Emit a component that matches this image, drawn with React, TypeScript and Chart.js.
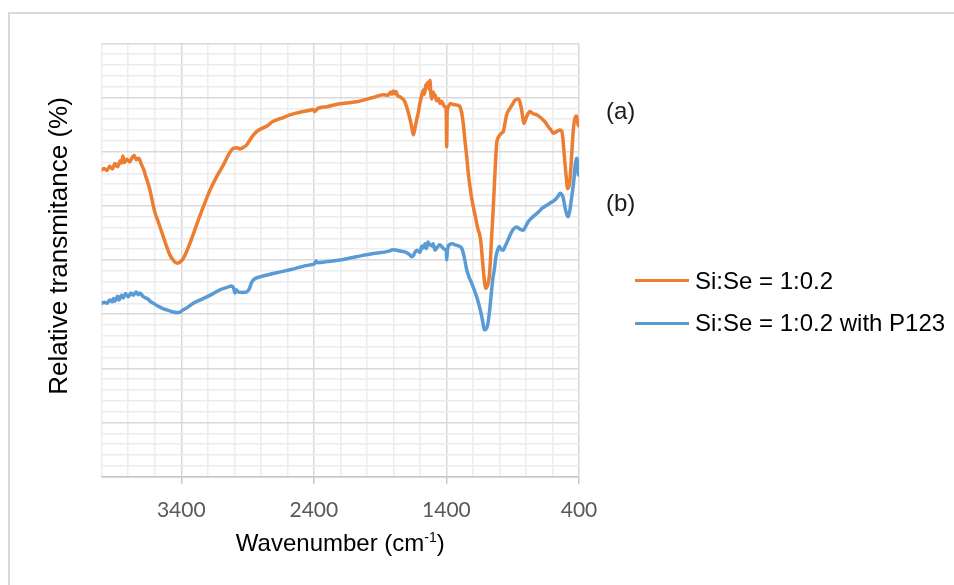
import React, { useEffect, useRef } from 'react';
import { Chart, registerables } from 'chart.js';

Chart.register(...registerables);

// FTIR spectra: wavenumber (cm-1) and relative transmittance (%)
const WAVE_A = [
  4000, 3980, 3960, 3940, 3920, 3900, 3880, 3860, 3850, 3840, 3830, 3810, 3790, 3770, 3755, 3740,
  3720, 3700, 3680, 3670, 3655, 3636, 3615, 3598, 3580, 3560, 3523, 3485, 3455, 3430, 3405, 3384,
  3334, 3284, 3234, 3183, 3133, 3083, 3040, 3007, 2980, 2957, 2930, 2905, 2881, 2855, 2831, 2800,
  2756, 2706, 2630, 2580, 2479, 2420, 2404, 2395, 2385, 2370, 2300, 2215, 2077, 1952, 1876, 1840,
  1820, 1810, 1800, 1790, 1780, 1770, 1750, 1720, 1700, 1680, 1662, 1650, 1640, 1625, 1610, 1600,
  1585, 1574, 1565, 1555, 1549, 1540, 1530, 1524, 1518, 1511, 1500, 1490, 1486, 1475, 1460, 1449,
  1435, 1420, 1411, 1402, 1398, 1394, 1386, 1370, 1348, 1320, 1298, 1285, 1273, 1260, 1247, 1235,
  1222, 1210, 1197, 1180, 1160, 1150, 1139, 1130, 1122, 1110, 1102, 1090, 1077, 1068, 1059, 1049,
  1039, 1030, 1021, 1010, 996, 980, 971, 960, 946, 921, 900, 883, 858, 845, 833, 822,
  815, 805, 795, 770, 745, 719, 690, 669, 650, 632, 610, 594, 570, 543, 530, 523,
  515, 506, 495, 486, 476, 468, 460, 453, 443, 436, 430, 420, 413, 405, 400,
];
const TRANS_A = [
  56.6, 56.9, 56.5, 57.3, 56.8, 57.8, 57.2, 58.3, 57.9, 59.2, 58.0, 58.6, 58.1, 58.9, 59.3, 58.5,
  58.8, 57.6, 56.5, 55.6, 54.5, 52.9, 50.5, 48.7, 47.5, 46.1, 43.4, 40.9, 39.8, 39.4, 39.7, 40.3,
  43.1, 46.5, 49.8, 52.9, 55.4, 57.5, 59.6, 60.6, 60.7, 60.5, 60.8, 61.3, 62.2, 63.1, 63.7, 64.2,
  64.7, 65.6, 66.3, 66.8, 67.4, 67.7, 67.8, 67.4, 67.6, 68.0, 68.3, 68.8, 69.2, 70.0, 70.5, 70.4,
  71.0, 70.6, 71.2, 70.7, 71.1, 70.4, 70.1, 69.5, 68.3, 66.5, 64.6, 63.1, 64.0, 65.8, 67.5, 68.9,
  70.5, 71.4, 70.6, 72.4, 72.0, 72.8, 71.5, 73.2, 70.8, 69.7, 71.0, 70.2, 70.5, 69.4, 69.8, 68.9,
  69.3, 68.5, 68.3, 67.8, 60.9, 67.5, 68.3, 68.9, 68.7, 68.6, 68.3, 67.2, 65.2, 62.0, 59.1, 56.0,
  53.5, 51.5, 49.8, 47.8, 45.5, 44.8, 43.1, 40.5, 38.2, 35.5, 34.8, 35.3, 36.9, 40.0, 44.3, 48.5,
  53.5, 58.0, 61.5, 62.6, 63.1, 63.5, 63.7, 65.0, 66.8, 68.0, 68.8, 69.5, 69.7, 69.1, 67.7, 66.0,
  65.2, 65.8, 66.5, 67.4, 67.0, 66.8, 66.3, 65.8, 65.3, 64.6, 64.0, 63.4, 63.7, 64.0, 63.8, 62.8,
  60.5, 57.9, 55.0, 53.2, 53.6, 54.8, 57.5, 60.3, 64.0, 65.5, 66.2, 66.6, 65.8, 64.8, 65.6,
];

const WAVE_B = [
  4000, 3980, 3960, 3940, 3920, 3912, 3900, 3880, 3870, 3850, 3837, 3820, 3800, 3780, 3762, 3740,
  3725, 3711, 3690, 3670, 3650, 3636, 3610, 3585, 3560, 3535, 3510, 3485, 3460, 3434, 3410, 3384,
  3350, 3309, 3260, 3208, 3160, 3108, 3060, 3020, 3005, 2995, 2985, 2970, 2940, 2906, 2885, 2870,
  2857, 2806, 2706, 2580, 2429, 2395, 2385, 2370, 2300, 2203, 2080, 1952, 1840, 1800, 1775, 1740,
  1713, 1690, 1670, 1662, 1650, 1635, 1620, 1600, 1585, 1574, 1560, 1550, 1540, 1524, 1510, 1500,
  1486, 1470, 1450, 1436, 1415, 1400, 1398, 1392, 1380, 1355, 1336, 1310, 1285, 1265, 1247, 1230,
  1209, 1190, 1172, 1155, 1139, 1125, 1114, 1100, 1089, 1075, 1064, 1050, 1039, 1025, 1014, 1001,
  989, 971, 958, 946, 925, 908, 890, 870, 845, 820, 800, 782, 755, 732, 700, 681,
  650, 619, 581, 560, 543, 530, 518, 508, 498, 488, 481, 470, 463, 448, 438, 430,
  422, 417, 410, 405, 400,
];
const TRANS_B = [
  32.0, 32.2, 32.0, 32.6, 32.3, 32.9, 32.4, 33.3, 32.6, 33.5, 33.0, 33.8, 33.2, 33.9, 33.5, 34.1,
  33.6, 33.9, 33.3, 33.0, 32.8, 32.4, 32.0, 31.6, 31.3, 31.0, 30.8, 30.6, 30.4, 30.3, 30.4, 30.8,
  31.3, 32.0, 32.6, 33.2, 33.8, 34.5, 34.9, 35.2, 34.8, 33.9, 34.5, 34.1, 34.0, 34.1, 34.8, 35.8,
  36.3, 36.9, 37.5, 38.2, 39.1, 39.3, 39.8, 39.5, 39.7, 40.0, 40.6, 41.2, 41.6, 41.9, 41.8, 41.6,
  41.5, 41.2, 40.8, 40.6, 40.8, 41.5, 41.8, 41.4, 42.6, 42.2, 43.0, 42.1, 43.3, 42.8, 42.6, 43.0,
  41.8, 42.3, 42.8, 42.5, 42.0, 41.6, 40.0, 41.8, 42.8, 43.0, 42.8, 42.6, 42.2, 40.5, 38.2, 36.9,
  35.7, 34.5, 33.2, 31.8, 30.2, 28.5, 27.1, 27.3, 28.0, 30.5, 33.2, 36.5, 38.2, 40.8, 41.8, 42.5,
  42.0, 41.8, 42.5, 43.1, 44.3, 45.2, 45.8, 46.1, 45.7, 45.5, 46.3, 47.1, 47.8, 48.3, 49.0, 49.5,
  50.0, 50.5, 51.1, 51.7, 52.3, 52.1, 51.4, 50.0, 48.9, 48.1, 48.0, 49.0, 50.2, 52.9, 55.0, 57.2,
  58.5, 58.8, 57.5, 55.7, 57.5,
];

const X_GRID = [4000, 3800, 3600, 3400, 3200, 3000, 2800, 2600, 2400, 2200, 2000, 1800, 1600, 1400, 1200, 1000, 800, 600, 400];
const X_MAJOR = [3400, 2400, 1400, 400];

const SERIES_NAMES = ['Si:Se = 1:0.2', 'Si:Se = 1:0.2 with P123'];
const CURVE_TAGS = ['(a)', '(b)'];
const COLOR_A = '#ED7D31';
const COLOR_B = '#5B9BD5';

const W = 954;
const H = 585;
const AREA = { left: 101.7, top: 43.3, right: 579, bottom: 476.7 };

const toPoints = (xs: number[], ys: number[]) => xs.map((x, i) => ({ x, y: ys[i] }));

export default function App() {
  const canvasRef = useRef<HTMLCanvasElement | null>(null);

  useEffect(() => {
    const canvas = canvasRef.current;
    if (!canvas) return;
    const line = (label: string, xs: number[], ys: number[], color: string) => ({
      label,
      data: toPoints(xs, ys),
      borderColor: color,
      borderWidth: 3.5,
      pointRadius: 0,
      cubicInterpolationMode: 'monotone' as const,
      borderJoinStyle: 'round' as const,
      borderCapStyle: 'round' as const,
    });
    const chart = new Chart(canvas, {
      type: 'line',
      data: {
        datasets: [
          line(SERIES_NAMES[0], WAVE_A, TRANS_A, COLOR_A),
          line(SERIES_NAMES[1], WAVE_B, TRANS_B, COLOR_B),
        ],
      },
      options: {
        responsive: false,
        animation: false,
        devicePixelRatio: 1,
        layout: {
          padding: { left: AREA.left, top: AREA.top, right: W - AREA.right, bottom: 0 },
        },
        plugins: { legend: { display: false }, tooltip: { enabled: false } },
        scales: {
          x: {
            type: 'linear',
            reverse: true,
            min: 400,
            max: 4000,
            afterBuildTicks: (scale: any) => {
              scale.ticks = X_GRID.map((v) => ({ value: v }));
            },
            afterFit: (scale: any) => {
              scale.height = H - AREA.bottom;
            },
            ticks: {
              autoSkip: false,
              maxRotation: 0,
              padding: 14,
              color: '#595959',
              font: { family: 'Lato', size: 21 },
              callback: (v: any) => (X_MAJOR.includes(Number(v)) ? String(v) : ''),
            },
            grid: {
              color: (ctx: any) => (X_MAJOR.includes(ctx.tick?.value) ? '#d9d9d9' : '#ececec'),
              tickColor: (ctx: any) => (X_MAJOR.includes(ctx.tick?.value) ? '#c8c8c8' : 'rgba(0,0,0,0)'),
              tickLength: 7,
              lineWidth: 1.5,
            },
            border: { color: '#c8c8c8', width: 1.5 },
          },
          y: {
            min: 0,
            max: 80,
            ticks: { display: false, stepSize: 2 },
            afterFit: (scale: any) => {
              scale.width = 0;
            },
            grid: {
              drawTicks: false,
              color: (ctx: any) => (ctx.tick && ctx.tick.value % 10 === 0 ? '#d9d9d9' : '#ececec'),
              lineWidth: 1.5,
            },
            border: { display: false },
          },
        },
      },
    });
    return () => chart.destroy();
  }, []);

  const arial = '"Liberation Sans", Arial, sans-serif';

  return (
    <div
      style={{
        position: 'absolute',
        left: 0,
        top: 0,
        width: W,
        height: H,
        overflow: 'hidden',
        background: '#ffffff',
      }}
    >
      <div
        style={{
          position: 'absolute',
          left: 8,
          top: 12,
          width: W,
          height: H,
          borderLeft: '2px solid #d9d9d9',
          borderTop: '2px solid #d9d9d9',
        }}
      />
      <canvas ref={canvasRef} width={W} height={H} style={{ position: 'absolute', left: 0, top: 0 }} />

      {/* y-axis title */}
      <div
        style={{
          position: 'absolute',
          left: 58 - 200,
          top: 246 - 15,
          width: 400,
          height: 30,
          lineHeight: '30px',
          textAlign: 'center',
          transform: 'rotate(-90deg)',
          fontFamily: arial,
          fontSize: 26,
          color: '#000',
          whiteSpace: 'nowrap',
        }}
      >
        Relative transmitance (%)
      </div>

      {/* x-axis title */}
      <div
        style={{
          position: 'absolute',
          left: AREA.left,
          top: 531,
          width: AREA.right - AREA.left,
          lineHeight: '24px',
          textAlign: 'center',
          fontFamily: arial,
          fontSize: 24,
          color: '#000',
          whiteSpace: 'nowrap',
        }}
      >
        Wavenumber (cm
        <span style={{ fontSize: 14, position: 'relative', top: -9 }}>-1</span>)
      </div>

      {/* curve tags */}
      {CURVE_TAGS.map((t, i) => (
        <div
          key={t}
          style={{
            position: 'absolute',
            left: 606,
            top: [111, 203][i] - 15,
            lineHeight: '30px',
            fontFamily: arial,
            fontSize: 24,
            color: '#1a1a1a',
          }}
        >
          {t}
        </div>
      ))}

      {/* legend */}
      {SERIES_NAMES.map((name, i) => {
        const y = [280.7, 323][i];
        return (
          <React.Fragment key={name}>
            <div
              style={{
                position: 'absolute',
                left: 635,
                top: y - 1.5,
                width: 54,
                height: 3,
                background: i === 0 ? COLOR_A : COLOR_B,
              }}
            />
            <div
              style={{
                position: 'absolute',
                left: 695,
                top: y - 15,
                lineHeight: '30px',
                fontFamily: arial,
                fontSize: 24,
                color: '#000',
                whiteSpace: 'nowrap',
              }}
            >
              {name}
            </div>
          </React.Fragment>
        );
      })}
    </div>
  );
}
